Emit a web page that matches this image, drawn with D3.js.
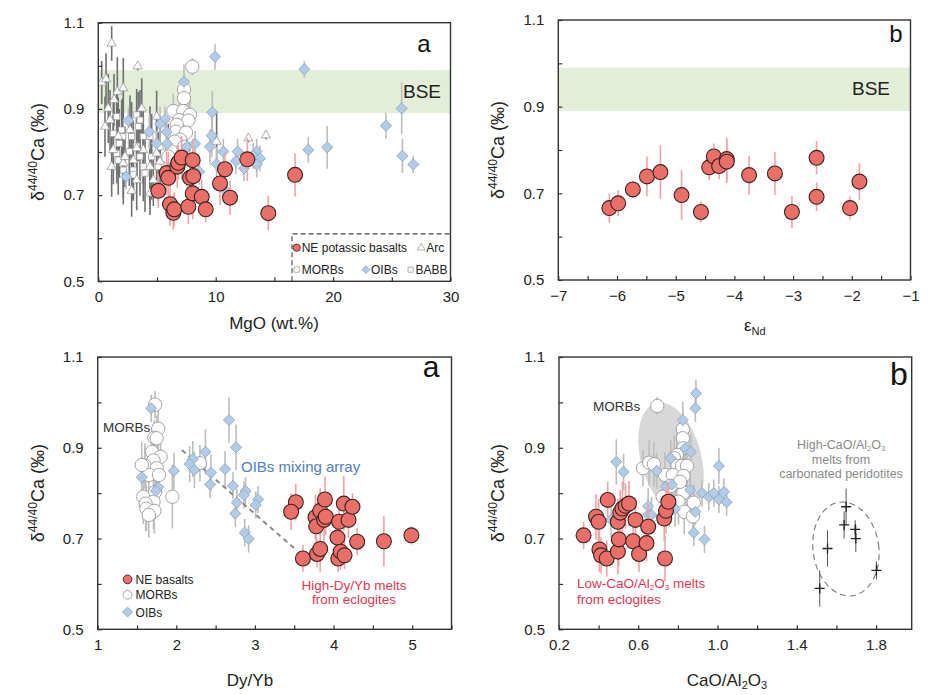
<!DOCTYPE html>
<html>
<head>
<meta charset="utf-8">
<script src="https://cdn.jsdelivr.net/npm/d3@7"></script>
<style>
  body { margin: 0; background: #fff; }
  text { font-family: "Liberation Sans", Arial, sans-serif; }
</style>
</head>
<body>
<div id="chart"></div>
<script>
// ---- data: [x, d44/40Ca, 2sd] ----
// panel 1: MgO (wt.%)
const mgoNE = [[5.11,0.710,0.04],[5.82,0.751,0.05],[5.96,0.740,0.06],[6.11,0.679,0.05],[6.39,0.659,0.04],[6.47,0.667,0.04],[6.73,0.766,0.05],[6.81,0.775,0.04],[7.10,0.787,0.05],[7.67,0.673,0.04],[7.81,0.740,0.05],[8.04,0.781,0.05],[8.04,0.704,0.06],[8.09,0.744,0.06],[8.81,0.696,0.04],[9.15,0.667,0.03],[10.37,0.727,0.05],[10.79,0.760,0.04],[11.22,0.694,0.04],[12.69,0.783,0.05],[14.48,0.658,0.04],[16.76,0.747,0.05]];
const mgoOIB = [[9.94,1.021,0.03],[17.55,0.992,0.02],[7.30,0.963,0.04],[25.84,0.901,0.06],[9.71,0.892,0.05],[24.5,0.861,0.03],[2.56,0.873,0.03],[5.68,0.876,0.03],[5.26,0.865,0.04],[4.34,0.847,0.04],[5.82,0.847,0.03],[9.66,0.838,0.05],[5.88,0.819,0.03],[8.24,0.819,0.03],[9.51,0.812,0.04],[10.65,0.801,0.03],[11.87,0.801,0.03],[13.49,0.801,0.03],[13.2,0.791,0.03],[13.77,0.785,0.03],[11.73,0.779,0.03],[10.08,0.772,0.04],[13.49,0.771,0.03],[12.41,0.762,0.03],[8.6,0.754,0.03],[17.89,0.805,0.03],[19.5,0.811,0.05],[25.9,0.791,0.04],[26.83,0.771,0.02],[2.36,0.743,0.03],[10.79,0.712,0.03],[4.97,0.820,0.03],[7.53,0.812,0.03]];
const mgoMORB = [[8.01,0.998,0.02],[7.30,0.945,0.03],[7.30,0.925,0.03],[6.39,0.895,0.04],[7.24,0.895,0.04],[7.81,0.886,0.04],[6.90,0.874,0.05],[7.67,0.873,0.04],[6.68,0.863,0.04],[6.62,0.847,0.05],[7.47,0.845,0.05],[6.96,0.829,0.04],[6.53,0.824,0.05],[7.30,0.812,0.04],[6.25,0.801,0.05],[7.81,0.778,0.04],[7.53,0.762,0.04],[5.96,0.789,0.05]];
const mgoArc = [[1.14,1.052,0.04],[3.36,0.999,0.01],[0.29,0.961,0.05],[0.66,0.969,0.06],[1.62,0.940,0.08],[2.13,0.948,0.07],[1.34,0.921,0.06],[0.85,0.901,0.08],[3.70,0.901,0.07],[1.00,0.874,0.07],[12.78,0.832,0.01],[14.28,0.839,0.01],[1.28,0.805,0.08],[1.14,0.766,0.07],[2.13,0.774,0.08],[2.98,0.781,0.09],[3.27,0.735,0.07],[2.84,0.710,0.06],[4.40,0.704,0.05],[2.27,0.789,0.07],[3.83,0.805,0.08],[4.40,0.766,0.09],[4.97,0.797,0.08],[4.97,0.882,0.06],[10.08,0.824,0.07],[0.57,0.859,0.07],[1.70,0.836,0.09],[2.70,0.851,0.08],[3.27,0.809,0.08],[4.69,0.735,0.06],[5.26,0.778,0.07]];
const mgoBABB = [[3.27,0.886,0.06],[3.55,0.874,0.07],[3.41,0.859,0.08],[1.99,0.851,0.07],[1.57,0.882,0.06],[2.08,0.836,0.09],[2.84,0.836,0.08],[3.83,0.836,0.07],[1.79,0.820,0.08],[3.27,0.814,0.09],[1.57,0.797,0.07],[2.64,0.801,0.08],[3.55,0.789,0.09],[4.55,0.789,0.10],[1.70,0.781,0.08],[2.98,0.758,0.07],[3.83,0.766,0.08],[3.98,0.751,0.09],[5.26,0.812,0.07],[5.96,0.805,0.06],[6.53,0.788,0.05],[7.53,0.847,0.05],[5.11,0.766,0.08],[4.40,0.836,0.07],[2.13,0.758,0.08],[2.98,0.747,0.06],[6.68,0.812,0.05],[1.28,0.843,0.07]];

// panel 2: eNd
const endNE = [[-6.13,0.666,0.034],[-5.98,0.677,0.03],[-5.73,0.709,0.02],[-5.49,0.739,0.046],[-5.26,0.749,0.062],[-4.90,0.696,0.057],[-4.57,0.657,0.025],[-4.43,0.760,0.03],[-4.35,0.785,0.03],[-4.26,0.763,0.03],[-4.13,0.779,0.05],[-4.13,0.773,0.05],[-3.75,0.742,0.045],[-3.31,0.746,0.05],[-3.02,0.657,0.037],[-2.60,0.782,0.038],[-2.60,0.692,0.033],[-2.03,0.666,0.027],[-1.87,0.727,0.043]];

// panel 3: Dy/Yb
const dyNE = [[3.52,0.780,0.04],[3.46,0.759,0.04],[3.61,0.656,0.03],[3.79,0.666,0.03],[3.83,0.677,0.05],[3.77,0.747,0.05],[3.78,0.727,0.04],[3.83,0.761,0.05],[3.89,0.786,0.05],[3.88,0.741,0.05],[3.90,0.748,0.04],[4.05,0.702,0.04],[4.07,0.737,0.05],[4.06,0.656,0.03],[4.09,0.671,0.04],[4.14,0.663,0.03],[4.13,0.777,0.06],[4.19,0.741,0.04],[4.24,0.770,0.03],[4.30,0.693,0.03],[4.64,0.694,0.055],[4.99,0.707,0.02]];
const dyMORB = [[1.73,0.995,0.03],[1.77,0.942,0.05],[1.72,0.922,0.04],[1.75,0.921,0.05],[1.69,0.891,0.05],[1.80,0.880,0.04],[1.71,0.872,0.05],[1.60,0.860,0.05],[1.75,0.855,0.06],[1.65,0.840,0.06],[1.78,0.840,0.05],[1.73,0.803,0.06],[1.58,0.792,0.06],[1.71,0.781,0.06],[1.61,0.777,0.06],[1.62,0.766,0.05],[1.72,0.761,0.05],[1.65,0.752,0.05],[1.95,0.792,0.07],[2.30,0.866,0.04],[1.56,0.862,0.05]];
const dyOIB = [[1.68,0.987,0.03],[2.67,0.961,0.05],[2.76,0.901,0.05],[2.37,0.891,0.05],[2.21,0.875,0.04],[2.17,0.864,0.04],[2.23,0.851,0.04],[1.97,0.849,0.04],[2.62,0.853,0.04],[2.44,0.845,0.04],[1.56,0.835,0.04],[2.43,0.819,0.03],[2.72,0.816,0.03],[1.77,0.813,0.04],[2.88,0.805,0.03],[2.86,0.796,0.03],[2.77,0.779,0.03],[3.04,0.786,0.03],[3.01,0.774,0.03],[2.75,0.755,0.03],[2.87,0.713,0.03],[2.92,0.699,0.03],[1.74,0.805,0.04]];
const mixLine = [[2.07,0.895],[3.51,0.677]];

// panel 4: CaO/Al2O3
const caNE = [[0.324,0.707,0.03],[0.387,0.748,0.05],[0.400,0.737,0.05],[0.404,0.676,0.05],[0.412,0.663,0.04],[0.441,0.656,0.04],[0.446,0.785,0.04],[0.497,0.737,0.05],[0.497,0.671,0.05],[0.502,0.698,0.06],[0.509,0.757,0.05],[0.520,0.766,0.06],[0.536,0.772,0.05],[0.553,0.777,0.05],[0.574,0.694,0.04],[0.586,0.741,0.05],[0.604,0.666,0.04],[0.642,0.690,0.04],[0.650,0.726,0.05],[0.731,0.744,0.05],[0.740,0.761,0.05],[0.752,0.781,0.04],[0.735,0.656,0.05]];
const caOIB = [[0.891,1.020,0.03],[0.888,0.987,0.03],[0.825,0.961,0.04],[0.489,0.869,0.05],[0.526,0.847,0.04],[0.693,0.849,0.04],[0.764,0.877,0.04],[0.837,0.899,0.04],[0.866,0.891,0.04],[1.007,0.860,0.04],[0.740,0.814,0.04],[0.769,0.819,0.04],[0.862,0.807,0.04],[0.922,0.800,0.03],[0.956,0.792,0.03],[0.981,0.800,0.03],[1.007,0.786,0.03],[1.032,0.803,0.03],[1.046,0.780,0.03],[0.650,0.771,0.04],[0.650,0.752,0.04],[0.667,0.752,0.04],[0.463,0.741,0.04],[0.888,0.759,0.03],[0.880,0.713,0.03],[0.934,0.698,0.03],[0.786,0.766,0.04]];
const caMORB = [[0.696,0.992,0.02],[0.825,0.941,0.04],[0.825,0.921,0.04],[0.828,0.899,0.04],[0.795,0.884,0.05],[0.781,0.877,0.05],[0.624,0.855,0.04],[0.655,0.867,0.05],[0.679,0.864,0.05],[0.798,0.860,0.05],[0.820,0.860,0.05],[0.846,0.860,0.05],[0.735,0.840,0.05],[0.774,0.840,0.05],[0.828,0.838,0.05],[0.764,0.816,0.05],[0.828,0.801,0.06],[0.723,0.792,0.05],[0.803,0.781,0.05],[0.880,0.779,0.04],[0.832,0.759,0.05],[0.876,0.749,0.04],[0.757,0.776,0.05],[0.811,0.825,0.05]];
const caCarb = [[1.516,0.590,0.04],[1.555,0.678,0.04],[1.639,0.730,0.03],[1.649,0.770,0.04],[1.695,0.720,0.02],[1.698,0.700,0.03],[1.802,0.630,0.02]];
// ellipses: [cx, cy, semi-axis x, semi-axis y, rotation deg]
const morbField = [0.765, 0.877, 0.153, 0.126, -15];
const carbField = [1.648, 0.677, 0.166, 0.104, -8];

const bse = [0.89, 0.99];
const yTicks = d3.range(0.5, 1.1001, 0.1);
const yLabels = [0.5, 0.7, 0.9, 1.1];

// ---- style ----
const C = {
  red: "#ea6f68", redStroke: "#3b2220", redErr: "#f0a3a3",
  oib: "#b3cbe4", oibStroke: "#8aa5c3",
  morbStroke: "#9a9a9a", grayErr: "#bdbdbd", darkErr: "#707070",
  band: "#e2eed8", axis: "#333", redText: "#e2384f", blueText: "#4d7ec2", grayText: "#8a8a8a"
};

const svg = d3.select("#chart").append("svg").attr("width", 931).attr("height", 695);
const defs = svg.append("defs");

function panel(id, xd, xr, yr, xTicks, xLabels, xFmt) {
  const x = d3.scaleLinear().domain(xd).range(xr);
  const y = d3.scaleLinear().domain([0.5, 1.1]).range(yr);
  defs.append("clipPath").attr("id", id).append("rect")
    .attr("x", xr[0]).attr("y", yr[1]).attr("width", xr[1] - xr[0]).attr("height", yr[0] - yr[1]);
  const g = svg.append("g");
  const plot = g.append("g").attr("clip-path", `url(#${id})`);
  const ax = g.append("g");
  ax.append("g").attr("transform", `translate(0,${yr[0]})`)
    .call(d3.axisBottom(x).tickValues(xTicks).tickSize(-4).tickPadding(10)
      .tickFormat(v => xLabels.some(l => Math.abs(l - v) < 1e-6) ? xFmt(v) : ""))
    .call(s => s.select(".domain").remove());
  ax.append("g").attr("transform", `translate(${xr[0]},0)`)
    .call(d3.axisLeft(y).tickValues(yTicks).tickSize(-4).tickPadding(14)
      .tickFormat(v => yLabels.some(l => Math.abs(l - v) < 1e-6) ? d3.format(".1f")(v) : ""))
    .call(s => s.select(".domain").remove());
  ax.selectAll(".tick line").attr("stroke", C.axis).attr("stroke-width", 1.2);
  ax.selectAll(".tick text").attr("font-size", 15).attr("fill", "#222")
    .attr("font-family", "'Liberation Sans', Arial, sans-serif");
  g.append("rect").attr("x", xr[0]).attr("y", yr[1]).attr("width", xr[1] - xr[0]).attr("height", yr[0] - yr[1])
    .attr("fill", "none").attr("stroke", C.axis).attr("stroke-width", 1.4);
  return { x, y, g, plot };
}

function errBars(p, data, color, w) {
  p.plot.append("g").selectAll("line").data(data).enter().append("line")
    .attr("x1", d => p.x(d[0])).attr("x2", d => p.x(d[0]))
    .attr("y1", d => p.y(d[1] - d[2])).attr("y2", d => p.y(d[1] + d[2]))
    .attr("stroke", color).attr("stroke-width", w);
}

const symbolTypes = { circle: d3.symbolCircle, square: d3.symbolSquare, diamond: d3.symbolSquare, triangle: d3.symbolTriangle };

function marks(p, data, kind, size, fill, stroke, sw) {
  p.plot.append("g").selectAll("path").data(data).enter().append("path")
    .attr("transform", d => `translate(${p.x(d[0])},${p.y(d[1])})` + (kind === "diamond" ? " rotate(45)" : ""))
    .attr("d", d3.symbol().type(symbolTypes[kind]).size(size))
    .attr("fill", fill).attr("stroke", stroke).attr("stroke-width", sw);
}

function band(p) {
  const xd = p.x.range();
  p.plot.append("rect").attr("x", xd[0]).attr("width", xd[1] - xd[0])
    .attr("y", p.y(bse[1])).attr("height", p.y(bse[0]) - p.y(bse[1])).attr("fill", C.band);
}

function ellipse(p, e, fill, stroke, dash) {
  const cx = p.x(e[0]), cy = p.y(e[1]);
  p.plot.append("ellipse")
    .attr("transform", `translate(${cx},${cy}) rotate(${e[4]})`)
    .attr("rx", p.x(e[0] + e[2]) - cx).attr("ry", cy - p.y(e[1] + e[3]))
    .attr("fill", fill).attr("stroke", stroke).attr("stroke-dasharray", dash).attr("stroke-width", 1.1);
}

function label(g, x, y, str, size, color, anchor) {
  return g.append("text").attr("x", x).attr("y", y).attr("font-size", size)
    .attr("fill", color || "#222").attr("text-anchor", anchor || "start").text(str);
}

// chemical formula "Al2O3" appended to a text node
function al2o3(t, sub, drop) {
  t.append("tspan").text("Al");
  t.append("tspan").attr("font-size", sub).attr("dy", drop).text("2");
  t.append("tspan").attr("dy", -drop).text("O");
  t.append("tspan").attr("font-size", sub).attr("dy", drop).text("3");
  return t.append("tspan").attr("dy", -drop);
}

function yTitle(p, xPos) {
  const yr = p.y.range();
  const t = p.g.append("text").attr("transform", `translate(${xPos},${(yr[0] + yr[1]) / 2}) rotate(-90)`)
    .attr("text-anchor", "middle").attr("font-size", 18).attr("fill", "#222");
  t.append("tspan").text("δ");
  t.append("tspan").attr("dy", -7).attr("font-size", 12).text("44/40");
  t.append("tspan").attr("dy", 7).text("Ca (‰)");
}

const RED = 175, MORB = 140;

// ---------- panel 1 ----------
const p1 = panel("c1", [0, 30], [98.3, 450.5], [281.3, 22.7], d3.range(0, 31, 5), [0, 10, 20, 30], d3.format("d"));
band(p1);
errBars(p1, mgoBABB, C.darkErr, 1.6);
errBars(p1, mgoArc, C.darkErr, 1.6);
errBars(p1, mgoMORB, C.grayErr, 1.6);
errBars(p1, mgoOIB, C.grayErr, 1.6);
marks(p1, mgoBABB, "square", 38, "#fff", C.morbStroke, 0.8);
marks(p1, mgoArc, "triangle", 36, "#fff", C.morbStroke, 0.8);
marks(p1, mgoMORB, "circle", MORB, "#fff", C.morbStroke, 0.9);
marks(p1, mgoOIB, "diamond", 62, C.oib, C.oibStroke, 0.8);
errBars(p1, mgoNE, C.redErr, 1.6);
marks(p1, mgoNE, "circle", RED, C.red, C.redStroke, 1.1);
label(p1.g, 441, 98, "BSE", 19, "#222", "end");
label(p1.g, 424, 52, "a", 24, "#111", "middle");
yTitle(p1, 44);
label(p1.g, 274, 329, "MgO (wt.%)", 17, "#222", "middle");
// legend
p1.g.append("path").attr("d", `M${p1.x(16.5)},${p1.y(0.5)}V${p1.y(0.61)}H${p1.x(30)}`)
  .attr("fill", "none").attr("stroke", "#444").attr("stroke-width", 1.1).attr("stroke-dasharray", "5,3");
const lg1 = [
  { x: 16.9, y: 0.578, kind: "circle", size: 42, fill: C.red, stroke: C.redStroke, t: "NE potassic basalts" },
  { x: 27.5, y: 0.578, kind: "triangle", size: 26, fill: "#fff", stroke: C.morbStroke, t: "Arc" },
  { x: 16.9, y: 0.527, kind: "circle", size: 30, fill: "#fff", stroke: C.morbStroke, t: "MORBs" },
  { x: 22.8, y: 0.527, kind: "diamond", size: 30, fill: C.oib, stroke: C.oibStroke, t: "OIBs" },
  { x: 26.6, y: 0.527, kind: "square", size: 26, fill: "#fff", stroke: C.morbStroke, t: "BABB" }
];
lg1.forEach(d => {
  p1.g.append("path").attr("transform", `translate(${p1.x(d.x)},${p1.y(d.y)})` + (d.kind === "diamond" ? " rotate(45)" : ""))
    .attr("d", d3.symbol().type(symbolTypes[d.kind]).size(d.size)).attr("fill", d.fill).attr("stroke", d.stroke).attr("stroke-width", 0.8);
  label(p1.g, p1.x(d.x) + 5, p1.y(d.y) + 4.5, d.t, 12, "#222");
});

// ---------- panel 2 ----------
const p2 = panel("c2", [-7, -1], [558.3, 910.5], [280, 20], d3.range(-7, -0.99, 0.5), [-7, -6, -5, -4, -3, -2, -1], d3.format("d"));
band(p2);
errBars(p2, endNE, C.redErr, 1.6);
marks(p2, endNE, "circle", RED, C.red, C.redStroke, 1.1);
label(p2.g, 890, 95, "BSE", 19, "#222", "end");
label(p2.g, 896, 42, "b", 24, "#111", "middle");
yTitle(p2, 504);
const t2 = label(p2.g, 744, 331, "ε", 17, "#222", "start");
t2.append("tspan").attr("dy", 4).attr("font-size", 11).text("Nd");

// ---------- panel 3 ----------
const p3 = panel("c3", [1, 5.5], [97.7, 451.5], [629.3, 357], d3.range(1, 5.51, 0.5), [1, 2, 3, 4, 5], d3.format("d"));
errBars(p3, dyMORB, C.grayErr, 1.6);
errBars(p3, dyOIB, C.grayErr, 1.6);
p3.plot.append("path").attr("d", d3.line().x(d => p3.x(d[0])).y(d => p3.y(d[1]))(mixLine))
  .attr("stroke", "#8a8a8a").attr("stroke-width", 2).attr("stroke-dasharray", "5,4").attr("fill", "none");
marks(p3, dyMORB, "circle", MORB, "#fff", C.morbStroke, 0.9);
marks(p3, dyOIB, "diamond", 62, C.oib, C.oibStroke, 0.8);
errBars(p3, dyNE, C.redErr, 1.6);
marks(p3, dyNE, "circle", RED, C.red, C.redStroke, 1.1);
label(p3.g, 431, 377, "a", 30, "#111", "middle");
label(p3.g, 103, 432, "MORBs", 13.5, "#333");
label(p3.g, 241, 472, "OIBs mixing array", 15, C.blueText);
label(p3.g, 354, 590, "High-Dy/Yb melts", 13.5, C.redText, "middle");
label(p3.g, 354, 604, "from eclogites", 13.5, C.redText, "middle");
const lg3 = [
  { y: 0.610, kind: "circle", size: 60, fill: C.red, stroke: C.redStroke, t: "NE basalts" },
  { y: 0.576, kind: "circle", size: 60, fill: "#fff", stroke: C.morbStroke, t: "MORBs" },
  { y: 0.538, kind: "diamond", size: 48, fill: C.oib, stroke: C.oibStroke, t: "OIBs" }
];
lg3.forEach(d => {
  p3.g.append("path").attr("transform", `translate(${p3.x(1.38)},${p3.y(d.y)})` + (d.kind === "diamond" ? " rotate(45)" : ""))
    .attr("d", d3.symbol().type(symbolTypes[d.kind]).size(d.size)).attr("fill", d.fill).attr("stroke", d.stroke).attr("stroke-width", 0.9);
  label(p3.g, p3.x(1.38) + 8, p3.y(d.y) + 4.5, d.t, 12, "#222");
});
yTitle(p3, 44);
label(p3.g, 250, 686, "Dy/Yb", 17, "#222", "middle");

// ---------- panel 4 ----------
const p4 = panel("c4", [0.2, 1.98], [559, 911.7], [629.3, 357], d3.range(0.2, 1.981, 0.2), [0.2, 0.6, 1.0, 1.4, 1.8], d3.format(".1f"));
ellipse(p4, morbField, "#d8d8d8", "none", null);
ellipse(p4, carbField, "none", "#777", "6,4");
errBars(p4, caMORB, C.grayErr, 1.6);
errBars(p4, caOIB, C.grayErr, 1.6);
marks(p4, caMORB, "circle", MORB, "#fff", C.morbStroke, 0.9);
marks(p4, caOIB, "diamond", 62, C.oib, C.oibStroke, 0.8);
errBars(p4, caNE, C.redErr, 1.6);
marks(p4, caNE, "circle", RED, C.red, C.redStroke, 1.1);
errBars(p4, caCarb, "#555", 1);
p4.plot.append("g").selectAll("path").data(caCarb).enter().append("path")
  .attr("transform", d => `translate(${p4.x(d[0])},${p4.y(d[1])})`)
  .attr("d", "M-5,0H5M0,-5V5").attr("stroke", "#222").attr("stroke-width", 1.3);
label(p4.g, 899, 385, "b", 32, "#111", "middle");
label(p4.g, 593, 411, "MORBs", 13.5, "#333");
al2o3(label(p4.g, 841, 449, "High-CaO/", 12.5, C.grayText, "middle"), 7.5, 2);
label(p4.g, 841, 464, "melts from", 12.5, C.grayText, "middle");
label(p4.g, 841, 478, "carbonated peridotites", 12.5, C.grayText, "middle");
al2o3(label(p4.g, 577, 588, "Low-CaO/", 13.5, C.redText), 8, 2).text(" melts");
label(p4.g, 577, 604, "from eclogites", 13.5, C.redText);
yTitle(p4, 504);
al2o3(label(p4.g, 727, 686, "CaO/", 17, "#222", "middle"), 11, 3);
</script>
</body>
</html>
